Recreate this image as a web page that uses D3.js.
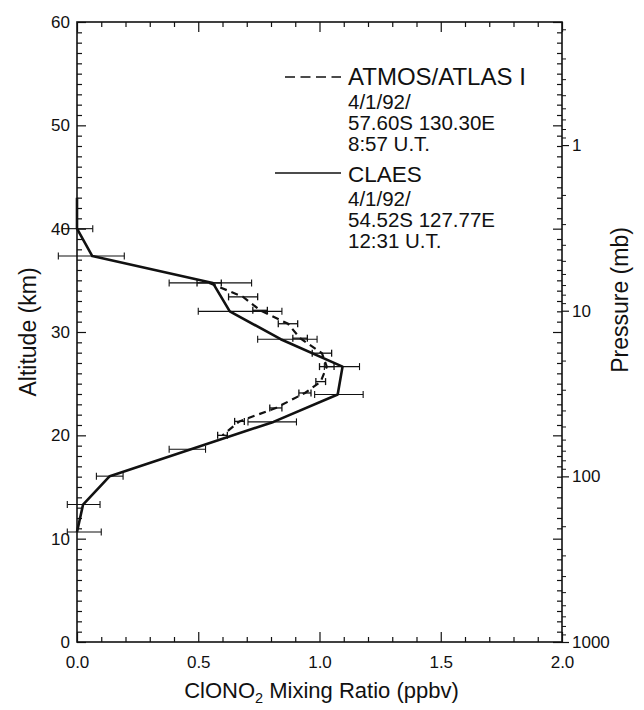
<!DOCTYPE html>
<html>
<head>
<meta charset="utf-8">
<script src="https://cdn.jsdelivr.net/npm/d3@7"></script>
<style>
  body { margin: 0; background: #fff; }
  svg { display: block; }
  text { font-family: "Liberation Sans", Arial, Helvetica, sans-serif; fill: #111; }
</style>
</head>
<body>
<svg id="chart" width="644" height="710"></svg>
<script>
// CLAES profile: altitude (km), ClONO2 mixing ratio (ppbv) and error-bar ends
const claesAlt = [43.0, 40.0, 37.35, 34.75, 32.0, 29.3, 26.65, 23.95, 21.3, 18.65, 16.05, 13.3, 10.65];
const claesVal = [0.0, 0.0, 0.063, 0.56, 0.63, 0.84, 1.095, 1.075, 0.81, 0.47, 0.135, 0.025, 0.0];
const claesLo  = [null, -0.06, -0.077, 0.38, 0.50, 0.745, 1.02, 0.98, 0.705, 0.38, 0.08, -0.04, -0.04];
const claesHi  = [null, 0.065, 0.195, 0.72, 0.845, 0.99, 1.165, 1.18, 0.905, 0.53, 0.19, 0.095, 0.10];

// ATMOS/ATLAS I profile: altitude (km), mixing ratio (ppbv), +/- error
const atmosAlt = [34.75, 33.4, 32.1, 30.8, 29.4, 27.95, 26.65, 25.2, 24.1, 22.65, 21.35, 20.0];
const atmosVal = [0.545, 0.685, 0.755, 0.87, 0.92, 1.01, 1.03, 1.005, 0.94, 0.82, 0.67, 0.60];
const atmosErr = [0.05, 0.06, 0.03, 0.04, 0.03, 0.04, 0.03, 0.02, 0.025, 0.025, 0.02, 0.02];

// Axis ticks
const xTickLabels = [0, 0.5, 1.0, 1.5, 2.0];
const altTickLabels = [0, 10, 20, 30, 40, 50, 60];
const pressureTickLabels = [1, 10, 100, 1000];

// Legend entries
const legendTitles = ["ATMOS/ATLAS I", "CLAES"];
const legendDetails = [
  ["4/1/92/", "57.60S 130.30E", "8:57 U.T."],
  ["4/1/92/", "54.52S 127.77E", "12:31 U.T."]
];

const KM_PER_DECADE = 16.03;   // log-pressure scale height per decade of pressure

const svg = d3.select("#chart");
const L = 77, R = 562, T = 22, B = 642;

const x = d3.scaleLinear().domain([0, 2]).range([L, R]);
const y = d3.scaleLinear().domain([0, 60]).range([B, T]);
const pTop = 1000 * Math.pow(10, -60 / KM_PER_DECADE);
const p = d3.scaleLog().domain([1000, pTop]).range([B, T]);

const ink = "#111";

function styleAxis(g, w) {
  g.select(".domain").remove();
  g.selectAll("line").attr("stroke", ink).attr("stroke-width", w || 1.2);
  g.selectAll("text").attr("fill", ink);
}

// ---- altitude ticks (inward) on left and right frames
const altMinor = d3.range(0, 61, 1).filter(v => v % 10 !== 0);
svg.append("g").attr("transform", `translate(${L},0)`)
  .call(d3.axisRight(y).tickValues(altMinor).tickSize(5).tickFormat(""))
  .call(g => styleAxis(g));
svg.append("g").attr("transform", `translate(${L},0)`)
  .call(d3.axisRight(y).tickValues(altTickLabels).tickSize(9).tickFormat(""))
  .call(g => styleAxis(g));
svg.append("g").attr("transform", `translate(${R},0)`)
  .call(d3.axisLeft(y).tickValues(altMinor).tickSize(5).tickFormat(""))
  .call(g => styleAxis(g));
svg.append("g").attr("transform", `translate(${R},0)`)
  .call(d3.axisLeft(y).tickValues(altTickLabels).tickSize(9).tickFormat(""))
  .call(g => styleAxis(g));

// altitude labels
svg.append("g").attr("transform", `translate(${L},0)`)
  .call(d3.axisLeft(y).tickValues(altTickLabels).tickSize(0).tickPadding(7).tickFormat(d3.format("d")))
  .call(g => styleAxis(g))
  .call(g => g.selectAll("text").attr("font-size", 17));

// ---- pressure ticks (outward) on right frame
const pMinor = [];
for (let dec = 0.1; dec < 1000; dec *= 10) {
  for (let k = 2; k <= 9; k++) {
    const v = +(dec * k).toPrecision(3);
    if (v > pTop && v < 1000) pMinor.push(v);
  }
}
svg.append("g").attr("transform", `translate(${R},0)`)
  .call(d3.axisRight(p).tickValues(pMinor).tickSize(4).tickFormat(""))
  .call(g => styleAxis(g, 1));
svg.append("g").attr("transform", `translate(${R},0)`)
  .call(d3.axisRight(p).tickValues(pressureTickLabels).tickSize(7).tickPadding(3).tickFormat(d3.format("d")))
  .call(g => styleAxis(g))
  .call(g => g.selectAll("text").attr("font-size", 17));

// ---- mixing-ratio ticks (inward) on top and bottom frames
const xMinor = d3.range(0, 21).map(i => i / 10).filter(v => Math.abs(v * 2 - Math.round(v * 2)) > 1e-9);
svg.append("g").attr("transform", `translate(0,${T})`)
  .call(d3.axisBottom(x).tickValues(xMinor).tickSize(5).tickFormat(""))
  .call(g => styleAxis(g));
svg.append("g").attr("transform", `translate(0,${T})`)
  .call(d3.axisBottom(x).tickValues(xTickLabels).tickSize(10).tickFormat(""))
  .call(g => styleAxis(g));
svg.append("g").attr("transform", `translate(0,${B})`)
  .call(d3.axisTop(x).tickValues(xMinor).tickSize(5).tickFormat(""))
  .call(g => styleAxis(g));
svg.append("g").attr("transform", `translate(0,${B})`)
  .call(d3.axisTop(x).tickValues(xTickLabels).tickSize(10).tickFormat(""))
  .call(g => styleAxis(g));
svg.append("g").attr("transform", `translate(0,${B})`)
  .call(d3.axisBottom(x).tickValues(xTickLabels).tickSize(0).tickPadding(14).tickFormat(d3.format(".1f")))
  .call(g => styleAxis(g))
  .call(g => g.selectAll("text").attr("font-size", 17));

// frame
svg.append("rect")
  .attr("x", L).attr("y", T).attr("width", R - L).attr("height", B - T)
  .attr("fill", "none").attr("stroke", ink).attr("stroke-width", 1.6);

// ---- axis titles
svg.append("text")
  .attr("transform", `translate(36,${y(30)}) rotate(-90)`)
  .attr("text-anchor", "middle").attr("font-size", 23)
  .text("Altitude (km)");
svg.append("text")
  .attr("transform", `translate(628,300) rotate(-90)`)
  .attr("text-anchor", "middle").attr("font-size", 23)
  .text("Pressure (mb)");
const xt = svg.append("text")
  .attr("x", (L + R) / 2 + 2).attr("y", 698)
  .attr("text-anchor", "middle").attr("font-size", 22);
xt.append("tspan").text("ClONO");
xt.append("tspan").attr("font-size", 14.5).attr("dy", 5).text("2");
xt.append("tspan").attr("dy", -5).text(" Mixing Ratio (ppbv)");

// ---- error bars
const cap = 3.5;
function errorBars(rows, w) {
  const g = svg.append("g").attr("stroke", ink).attr("stroke-width", w).attr("fill", "none");
  rows.forEach(r => {
    const yy = y(r.alt);
    g.append("line").attr("x1", x(r.lo)).attr("x2", x(r.hi)).attr("y1", yy).attr("y2", yy);
    g.append("line").attr("x1", x(r.lo)).attr("x2", x(r.lo)).attr("y1", yy - cap).attr("y2", yy + cap);
    g.append("line").attr("x1", x(r.hi)).attr("x2", x(r.hi)).attr("y1", yy - cap).attr("y2", yy + cap);
  });
}
errorBars(claesAlt.map((a, i) => ({ alt: a, lo: claesLo[i], hi: claesHi[i] })).filter(r => r.lo !== null), 1.1);
errorBars(atmosAlt.map((a, i) => ({ alt: a, lo: atmosVal[i] - atmosErr[i], hi: atmosVal[i] + atmosErr[i] })), 1.3);

// ---- profiles
const line = d3.line().x(d => x(d.v)).y(d => y(d.a));
svg.append("path")
  .datum(atmosAlt.map((a, i) => ({ a, v: atmosVal[i] })))
  .attr("d", line).attr("fill", "none").attr("stroke", ink)
  .attr("stroke-width", 2.2).attr("stroke-dasharray", "7,5");
svg.append("path")
  .datum(claesAlt.map((a, i) => ({ a, v: claesVal[i] })))
  .attr("d", line).attr("fill", "none").attr("stroke", ink)
  .attr("stroke-width", 2.6).attr("stroke-linejoin", "round");

// ---- legend
const leg = svg.append("g");
const legendRows = [
  { sx1: 285, sx2: 341, sy: 77, dash: "10,5.5", baseTitle: 85, titleSize: 24 },
  { sx1: 275, sx2: 341, sy: 173, dash: null, baseTitle: 182, titleSize: 22.5 }
];
legendTitles.forEach((t, i) => {
  const r = legendRows[i];
  leg.append("line")
    .attr("x1", r.sx1).attr("x2", r.sx2).attr("y1", r.sy).attr("y2", r.sy)
    .attr("stroke", ink).attr("stroke-width", 1.6)
    .attr("stroke-dasharray", r.dash);
  leg.append("text").attr("x", 348).attr("y", r.baseTitle).attr("font-size", r.titleSize).text(t);
  legendDetails[i].forEach((s, j) => {
    leg.append("text").attr("x", 348).attr("y", r.baseTitle + 24 + j * 21)
      .attr("font-size", 20.5).text(s);
  });
});
</script>
</body>
</html>
